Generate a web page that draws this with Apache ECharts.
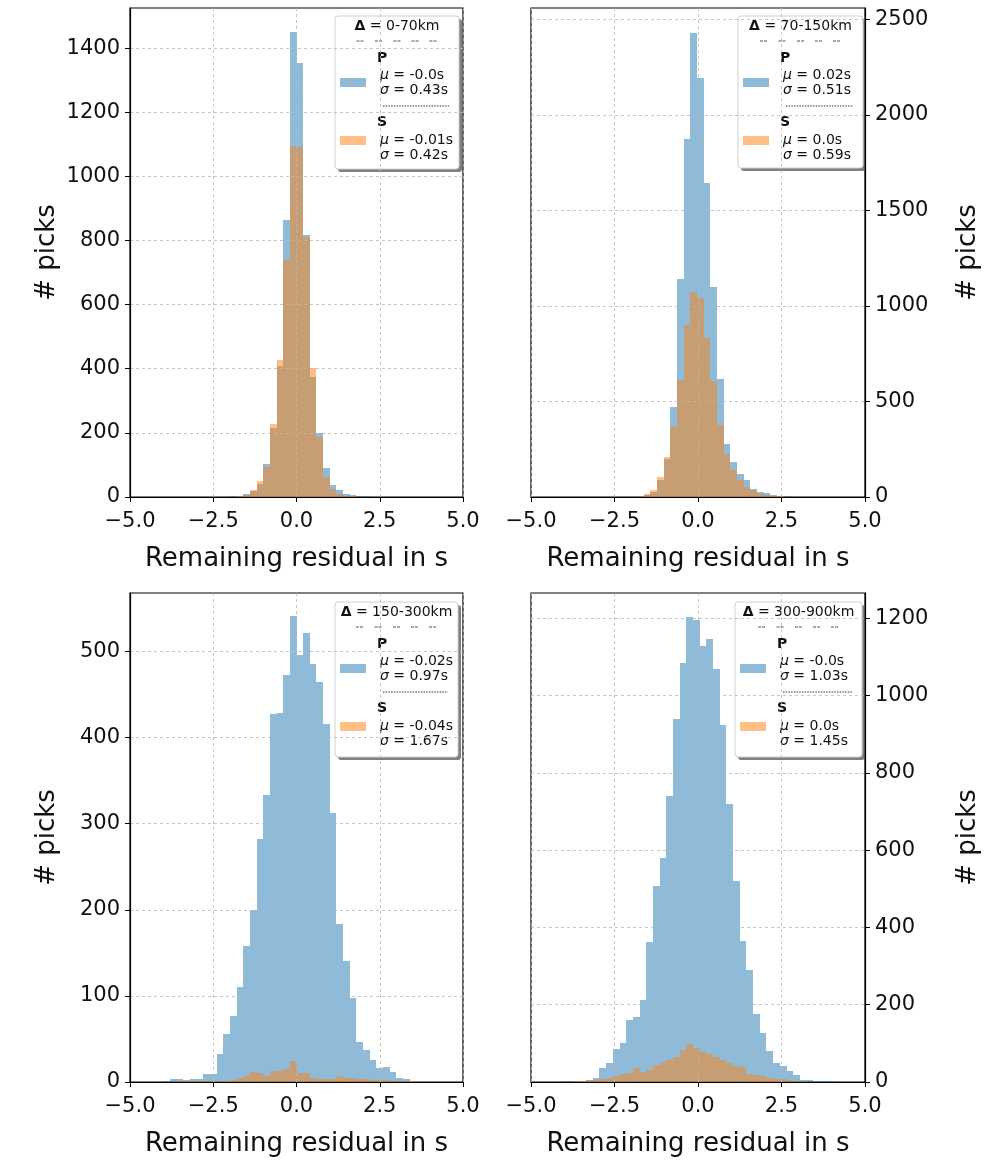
<!DOCTYPE html>
<html lang="en">
<head>
    <meta charset="UTF-8">
    <title>Remaining residuals</title>
    <style>
        html, body { margin: 0; padding: 0; background: #fff; }
        #main { width: 984px; height: 1164px; }
    </style>
</head>
<body>
<div id="main"></div>
<script src="https://cdn.jsdelivr.net/npm/echarts@6/dist/echarts.min.js"></script>
<script>
    // histogram bins: start of first bin + counts per 0.2 s bin
    const binWidth = 0.2;
    const xTicks = [-5, -2.5, 0, 2.5, 5];

    // 0-70km
    const p1Start = -2.2;
    const p1P = [1, 2, 3, 8, 20, 42, 104, 216, 407, 865, 1450, 1355, 818, 374, 200, 90, 38, 23, 10, 5, 3, 2, 1];
    const p1S = [1, 1, 2, 6, 22, 49, 94, 229, 426, 738, 1096, 1090, 810, 402, 187, 62, 26, 10, 4, 2, 1, 1, 0];
    const p1Ticks = [0, 200, 400, 600, 800, 1000, 1200, 1400];

    // 70-150km
    const p2Start = -2.03;
    const p2P = [2, 5, 12, 28, 88, 200, 470, 1142, 1875, 2428, 2192, 1643, 1099, 619, 279, 183, 122, 87, 44, 26, 21, 9, 5, 3, 1];
    const p2S = [1, 4, 15, 35, 105, 210, 367, 615, 900, 1075, 1040, 830, 607, 375, 227, 140, 87, 52, 35, 17, 12, 6, 3, 2, 1];
    const p2Ticks = [0, 500, 1000, 1500, 2000, 2500];

    // 150-300km
    const p3StartP = -4.0;
    const p3P = [1, 3, 3, 2, 3, 3, 9, 9, 33, 56, 77, 110, 158, 200, 282, 333, 427, 429, 473, 541, 496, 522, 486, 465, 416, 313, 183, 140, 97, 47, 37, 25, 16, 18, 12, 5, 3, 1];
    const p3StartS = -3.6;
    const p3S = [1, 1, 1, 1, 1, 1, 1, 1, 2, 5, 7, 12, 10, 7, 13, 13, 15, 24, 10, 10, 5, 4, 3, 3, 7, 5, 5, 4, 3, 2, 2, 2, 1, 1, 1, 1];
    const p3Ticks = [0, 100, 200, 300, 400, 500];

    // 300-900km
    const p4StartP = -4.55;
    const p4P = [1, 1, 1, 2, 2, 3, 5, 10, 35, 48, 86, 100, 160, 167, 212, 362, 508, 580, 740, 941, 1086, 1205, 1197, 1128, 1147, 1070, 924, 719, 521, 366, 290, 175, 128, 79, 50, 42, 29, 18, 6, 4, 3, 2, 2, 1, 1, 1];
    const p4StartS = -4.15;
    const p4S = [1, 1, 2, 3, 4, 6, 9, 11, 16, 20, 23, 35, 26, 30, 43, 52, 58, 65, 82, 98, 87, 78, 72, 65, 56, 49, 41, 39, 22, 17, 15, 11, 9, 7, 4, 3, 2, 1, 1];
    const p4Ticks = [0, 200, 400, 600, 800, 1000, 1200];

    const panels = [
        {title: '0-70km', p: [p1Start, p1P], s: [p1Start, p1S], ymax: 1525, ticks: p1Ticks, right: false,
            stats: ['-0.0s', '0.43s', '-0.01s', '0.42s']},
        {title: '70-150km', p: [p2Start, p2P], s: [p2Start, p2S], ymax: 2560, ticks: p2Ticks, right: true,
            stats: ['0.02s', '0.51s', '0.0s', '0.59s']},
        {title: '150-300km', p: [p3StartP, p3P], s: [p3StartS, p3S], ymax: 568, ticks: p3Ticks, right: false,
            stats: ['-0.02s', '0.97s', '-0.04s', '1.67s']},
        {title: '300-900km', p: [p4StartP, p4P], s: [p4StartS, p4S], ymax: 1266, ticks: p4Ticks, right: true,
            stats: ['-0.0s', '1.03s', '0.0s', '1.45s']}
    ];

    const FONT = 'DejaVu Sans';
    const gridRects = [
        {left: 130, top: 8, width: 333, height: 489},
        {left: 531, top: 8, width: 334, height: 489},
        {left: 130, top: 593, width: 333, height: 489},
        {left: 531, top: 593, width: 334, height: 489}
    ];
    const legendRects = [
        {x: 335, y: 16, w: 124, h: 153},
        {x: 738, y: 16, w: 125, h: 152},
        {x: 335, y: 602, w: 123, h: 155},
        {x: 735, y: 602, w: 127, h: 155}
    ];

    function histSeries(start, counts, color, idx, name) {
        const data = counts.map((c, i) => [start + i * binWidth, start + (i + 1) * binWidth, c]);
        return {
            type: 'custom',
            name: name,
            xAxisIndex: idx,
            yAxisIndex: idx,
            z: 2,
            encode: {x: [0, 1], y: 2},
            renderItem: function (params, api) {
                const a = api.coord([api.value(0), api.value(2)]);
                const b = api.coord([api.value(1), 0]);
                const x0 = Math.round(a[0]), x1 = Math.round(b[0]);
                const y0 = Math.round(a[1]), y1 = Math.round(b[1]);
                const shape = echarts.graphic.clipRectByRect(
                    {x: x0, y: y0, width: x1 - x0, height: y1 - y0},
                    {x: params.coordSys.x, y: params.coordSys.y, width: params.coordSys.width, height: params.coordSys.height}
                );
                return shape && {type: 'rect', shape: shape, style: {fill: color, opacity: 0.5}};
            },
            data: data
        };
    }

    function legendBox(r, pan) {
        const W = r.w, H = r.h;
        const fs = 14;
        const txt = (x, y, text, extra) => ({
            type: 'text', x: x, y: y,
            style: Object.assign({
                text: text, fontFamily: FONT, fontSize: fs, fill: '#111',
                verticalAlign: 'middle',
                rich: {
                    b: {fontFamily: FONT, fontSize: fs, fontWeight: 'bold', fill: '#111'},
                    i: {fontFamily: FONT, fontSize: fs, fontStyle: 'italic', fill: '#111'}
                }
            }, extra || {})
        });
        const kids = [
            {type: 'rect', shape: {x: 3, y: 3, width: W, height: H, r: 3}, style: {fill: 'rgba(85,85,85,0.75)'}},
            {type: 'rect', shape: {x: 0, y: 0, width: W, height: H, r: 3}, style: {fill: '#fff', stroke: '#d0d0d0', lineWidth: 1}},
            txt(W / 2, 10, '{b|\u0394} = ' + pan.title, {align: 'center'}),
            txt(42, 42, '{b|P}'),
            txt(45, 59, '{i|\u03bc} = ' + pan.stats[0]),
            txt(45, 74, '{i|\u03c3} = ' + pan.stats[1]),
            {type: 'rect', shape: {x: 5, y: 62, width: 26, height: 9}, style: {fill: '#1f77b4', opacity: 0.5}},
            {type: 'line', shape: {x1: 48, y1: 90, x2: W - 10, y2: 90}, style: {stroke: '#333', lineWidth: 1, lineDash: [1.5, 1.2]}},
            txt(42, 106, '{b|S}'),
            txt(45, 124, '{i|\u03bc} = ' + pan.stats[2]),
            txt(45, 139, '{i|\u03c3} = ' + pan.stats[3]),
            {type: 'rect', shape: {x: 5, y: 120, width: 26, height: 9}, style: {fill: '#ff7f0e', opacity: 0.5}}
        ];
        [-37, -18.5, 0, 18, 36].forEach(d => {
            kids.push({type: 'line', shape: {x1: W / 2 + d - 3.5, y1: 25, x2: W / 2 + d + 3.5, y2: 25},
                style: {stroke: '#555', lineWidth: 1, lineDash: [3, 1]}});
        });
        return {type: 'group', x: r.x, y: r.y, z: 50, children: kids};
    }

    const myChart = echarts.init(document.getElementById('main'));

    const grids = gridRects.map(g => Object.assign({
        show: true, borderColor: '#000', borderWidth: 1.2, backgroundColor: 'transparent'
    }, g));

    const xAxes = panels.map((pan, i) => ({
        type: 'value', gridIndex: i, min: xTicks[0], max: xTicks[xTicks.length - 1], interval: 2.5,
        name: 'Remaining residual in s', nameLocation: 'middle', nameGap: 49,
        nameTextStyle: {fontFamily: FONT, fontSize: 26, color: '#111'},
        axisLine: {show: true, onZero: false, lineStyle: {color: '#000', width: 1.2}},
        axisTick: {show: true, length: 5, lineStyle: {color: '#000', width: 1}},
        axisLabel: {fontFamily: FONT, fontSize: 21, color: '#111', margin: 14,
            formatter: v => v.toFixed(1).replace('-', '\u2212')},
        splitLine: {show: true, lineStyle: {color: '#b8b8b8', width: 0.8, type: [3, 3]}},
        z: 5
    }));

    const yAxes = panels.map((pan, i) => ({
        type: 'value', gridIndex: i, min: 0, max: pan.ymax,
        position: pan.right ? 'right' : 'left',
        name: '# picks', nameLocation: 'middle', nameRotate: 90, nameGap: pan.right ? 90 : 70,
        nameTextStyle: {fontFamily: FONT, fontSize: 26, color: '#111'},
        axisLine: {show: true, onZero: false, lineStyle: {color: '#000', width: 1.2}},
        axisTick: {show: true, length: 5, lineStyle: {color: '#000', width: 1}, customValues: pan.ticks},
        axisLabel: {fontFamily: FONT, fontSize: 21, color: '#111', margin: 10, customValues: pan.ticks,
            formatter: v => String(v)},
        splitLine: {show: true, lineStyle: {color: '#b8b8b8', width: 0.8, type: [3, 3]}},
        z: 5
    }));

    const series = [];
    panels.forEach((pan, i) => {
        series.push(histSeries(pan.p[0], pan.p[1], '#1f77b4', i, 'P'));
        series.push(histSeries(pan.s[0], pan.s[1], '#ff7f0e', i, 'S'));
    });

    myChart.setOption({
        animation: false,
        backgroundColor: '#fff',
        grid: grids,
        xAxis: xAxes,
        yAxis: yAxes,
        series: series,
        graphic: panels.map((pan, i) => legendBox(legendRects[i], pan))
    });
</script>
</body>
</html>
